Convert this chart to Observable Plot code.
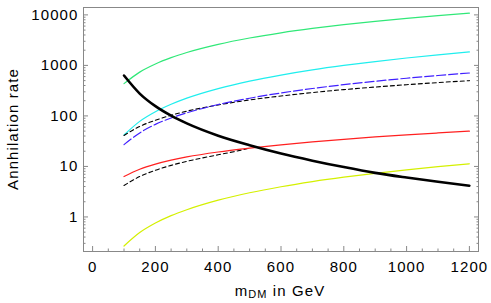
<!DOCTYPE html>
<html><head><meta charset="utf-8">
<script src="https://cdn.jsdelivr.net/npm/d3@7"></script>
<script src="https://cdn.jsdelivr.net/npm/@observablehq/plot@0.6"></script>
<style>body{margin:0;background:#fff} svg{display:block} svg text{letter-spacing:1.1px}</style>
</head><body><div id="chart"></div>
<script>
// DM mass (GeV) sample points
const mass = [100, 150, 200, 250, 300, 400, 500, 600, 700, 800, 900, 1000, 1100, 1200];
// Series values (annihilation rate)
const greenRate  = [436, 736, 1067, 1424, 1803, 2614, 3490, 4420, 5395, 6410, 7465, 8550, 9680, 10800];
const cyanRate   = [42, 78, 121, 170, 225, 348, 489, 644, 815, 997, 1191, 1400, 1618, 1845];
const blueRate   = [27, 46, 68, 91, 115, 168, 224, 285, 349, 416, 485, 557, 631, 707];
const dashedHigh = [41, 62, 82, 103, 124, 165, 207, 248, 290, 332, 373, 415, 457, 499];
const redRate    = [6.3, 8.8, 11.1, 13.3, 15.4, 19.3, 23.0, 26.8, 30.6, 34.4, 38.3, 42.2, 46.0, 49.9];
const yellowRate = [0.266, 0.49, 0.757, 1.06, 1.39, 2.15, 3.01, 3.96, 5.0, 6.12, 7.31, 8.56, 9.89, 11.3];
const blackRate  = [630, 277, 156, 101, 71, 40.5, 26.3, 18.0, 13.0, 9.7, 7.45, 6.02, 4.96, 4.16];
// lower dashed curve runs into the red curve near 500 GeV
const massLow    = [100, 150, 200, 250, 300, 400, 450, 500];
const dashedLow  = [4.2, 6.3, 8.4, 10.5, 12.6, 17.0, 19.6, 23.0];

// ticks
const xMajor = [0, 200, 400, 600, 800, 1000, 1200];
const xMinor = [50, 100, 150, 250, 300, 350, 450, 500, 550, 650, 700, 750, 850, 900, 950, 1050, 1100, 1150];
const yMajor = [1, 10, 100, 1000, 10000];
const yMinor = [0.3, 0.4, 0.5, 0.6, 0.7, 0.8, 0.9, 2, 3, 4, 5, 6, 7, 8, 9, 20, 30, 40, 50, 60, 70, 80, 90,
                200, 300, 400, 500, 600, 700, 800, 900, 2000, 3000, 4000, 5000, 6000, 7000, 8000, 9000];

const rows = (ms, vs) => ms.map((m, i) => ({m, v: vs[i]}));
const axisColor = "#888";
const font = "Liberation Sans, Arial, sans-serif";

const chart = Plot.plot({
  width: 491, height: 303,
  marginLeft: 83, marginRight: 13, marginTop: 7, marginBottom: 52,
  style: {fontFamily: font, fontSize: "15px", background: "#fff", color: "#000"},
  x: {domain: [-29, 1229]},
  y: {type: "log", domain: [0.207, 14000]},
  marks: [
    Plot.axisX({ticks: xMajor, tickSize: 0, tickPadding: 10, tickFormat: d => String(d), label: null}),
    Plot.axisX({ticks: xMajor, tickSize: -5, tickFormat: () => "", label: null, stroke: axisColor}),
    Plot.axisX({ticks: xMinor, tickSize: -2.5, tickFormat: () => "", label: null, stroke: axisColor}),
    Plot.axisY({ticks: yMajor, tickSize: 0, tickPadding: 5, tickFormat: d => String(d), label: null}),
    Plot.axisY({ticks: yMajor, tickSize: -5, tickFormat: () => "", label: null, stroke: axisColor}),
    Plot.axisY({ticks: yMinor, tickSize: -2.5, tickFormat: () => "", label: null, stroke: axisColor}),
    Plot.axisY({anchor: "right", ticks: yMajor, tickSize: -5, tickFormat: () => "", label: null, stroke: axisColor}),
    Plot.axisY({anchor: "right", ticks: yMinor, tickSize: -2.5, tickFormat: () => "", label: null, stroke: axisColor}),
    Plot.frame({stroke: axisColor}),
    Plot.line(rows(mass, greenRate), {x: "m", y: "v", stroke: "#30e878", strokeWidth: 1.2, curve: "monotone-x"}),
    Plot.line(rows(mass, cyanRate), {x: "m", y: "v", stroke: "#20eeee", strokeWidth: 1.2, curve: "monotone-x"}),
    Plot.line(rows(mass, dashedHigh), {x: "m", y: "v", stroke: "#000", strokeWidth: 1.1, strokeDasharray: "4,3", curve: "monotone-x"}),
    Plot.line(rows(mass, blueRate), {x: "m", y: "v", stroke: "#4020ff", strokeWidth: 1.2, strokeDasharray: "9,3", curve: "monotone-x"}),
    Plot.line(rows(massLow, dashedLow), {x: "m", y: "v", stroke: "#000", strokeWidth: 1.1, strokeDasharray: "4,3", curve: "monotone-x"}),
    Plot.line(rows(mass, redRate), {x: "m", y: "v", stroke: "#ff2020", strokeWidth: 1.2, curve: "monotone-x"}),
    Plot.line(rows(mass, yellowRate), {x: "m", y: "v", stroke: "#d4f000", strokeWidth: 1.2, curve: "monotone-x"}),
    Plot.line(rows(mass, blackRate), {x: "m", y: "v", stroke: "#000", strokeWidth: 2.6, curve: "monotone-x"})
  ]
});

const svg = d3.select(chart);
const xl = svg.append("text")
  .attr("x", 280).attr("y", 295.7)
  .attr("text-anchor", "middle")
  .attr("font-family", font).attr("font-size", 15).attr("fill", "#000");
xl.append("tspan").text("m");
xl.append("tspan").attr("font-size", 11).attr("dy", 2.5).text("DM");
xl.append("tspan").attr("dy", -2.5).text(" in GeV");

svg.append("text")
  .attr("transform", "translate(18.3,129) rotate(-90)")
  .attr("text-anchor", "middle")
  .attr("font-family", font).attr("font-size", 15).attr("fill", "#000")
  .text("Annhilation rate");

document.getElementById("chart").append(chart);
</script>
</body></html>
